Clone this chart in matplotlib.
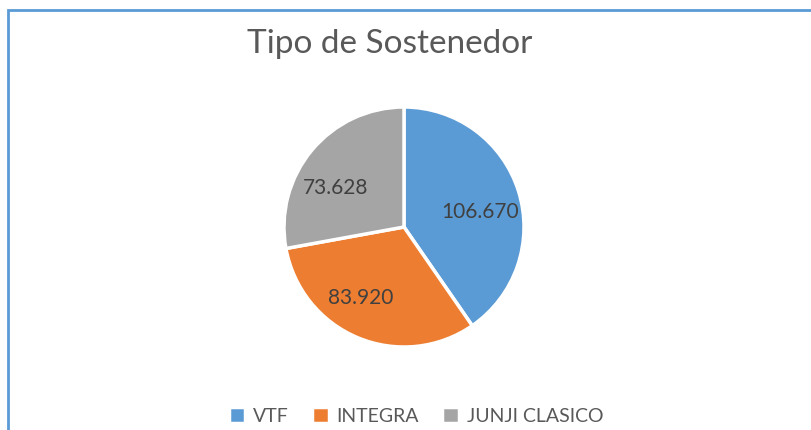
import matplotlib
matplotlib.use('Agg')
import matplotlib.pyplot as plt
from matplotlib.patches import Rectangle
import numpy as np

plt.rcParams['font.family'] = ['Lato', 'DejaVu Sans']

categorias = ['VTF', 'INTEGRA', 'JUNJI CLASICO']
valores = [106670, 83920, 73628]
etiquetas = ['106.670', '83.920', '73.628']
colores = ['#5b9bd5', '#ed7d31', '#a5a5a5']

W, H = 812, 430
fig = plt.figure(figsize=(W / 100, H / 100), dpi=100)

# marco del grafico (solo se ven borde izquierdo y superior)
fig.patches.append(Rectangle((8 / W, -0.1), 1.2, 1.1 - 10 / H, transform=fig.transFigure,
                             fill=False, edgecolor='#5b9bd5', linewidth=2))

cx, cy, r = 404, 227, 120
ax = fig.add_axes([(cx - r) / W, (H - cy - r) / H, 2 * r / W, 2 * r / H])
cunas, textos = ax.pie(valores, colors=colores, startangle=90, counterclock=False,
                       wedgeprops=dict(edgecolor='white', linewidth=2.5))
ax.set_xlim(-1, 1)
ax.set_ylim(-1, 1)

# etiquetas al estilo "ajuste perfecto" de Excel: desplazamiento de angulo y radio
ajuste = [(-6, 0.65), (-9, 0.69), (10, 0.66)]
total = sum(valores)
ang = 90
for v, txt, (da, rr) in zip(valores, etiquetas, ajuste):
    span = 360 * v / total
    mid = np.deg2rad(ang - span / 2 + da)
    ax.text(rr * np.cos(mid), rr * np.sin(mid), txt, ha='center', va='center',
            fontsize=15, color='#404040')
    ang -= span

fig.text(390 / W, 1 - 44 / H, 'Tipo de Sostenedor', ha='center', va='center',
         fontsize=24, color='#595959')

fig.legend(cunas, categorias, loc='center', bbox_to_anchor=(416 / W, 1 - 416 / H),
           ncol=3, frameon=False, fontsize=14, handlelength=0.85, handleheight=0.85,
           handletextpad=0.4, columnspacing=1.2, labelcolor='#595959')

fig.savefig('out.png', dpi=100)
